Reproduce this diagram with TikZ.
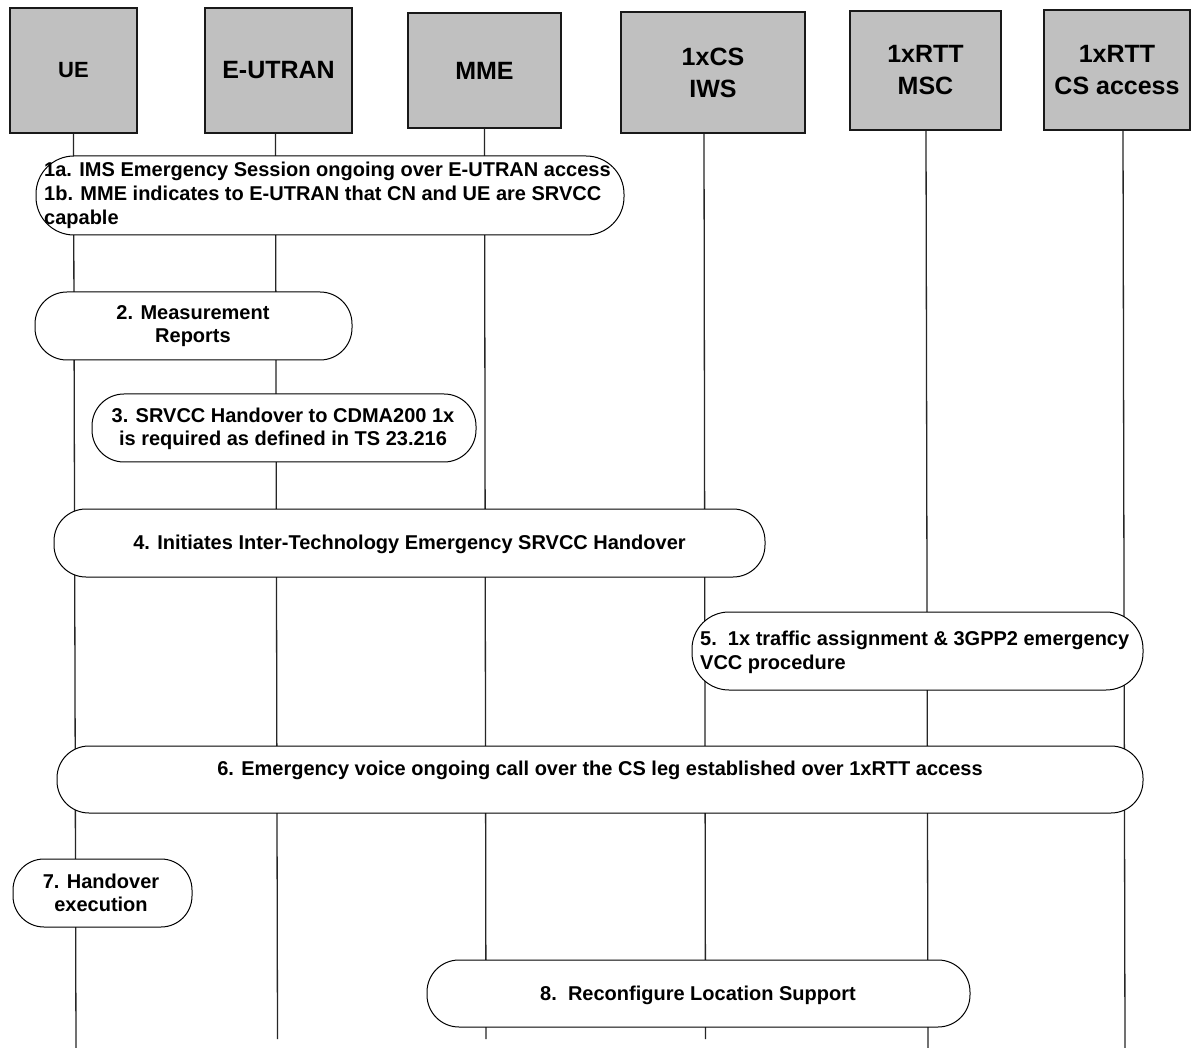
\documentclass[tikz,border=0pt]{standalone}
\usepackage{fontspec}
\setmainfont{Liberation Sans}
\definecolor{boxgray}{RGB}{192,192,192}
\begin{document}
\begin{tikzpicture}[x=1pt,y=-1pt,
  ent/.style={draw=black!90, line width=1.6pt, fill=boxgray, inner sep=0pt, align=center, font=\fontsize{25}{32}\selectfont\bfseries},
  life/.style={line width=1.3pt, draw=black!85},
  bub/.style={draw=black, line width=1pt, fill=white, inner sep=0pt},
  btxt/.style={inner sep=0pt, font=\fontsize{20}{24}\selectfont\bfseries}]
\useasboundingbox (0,0) rectangle (1192,1048);
\fill[white] (0,0) rectangle (1192,1048);

% lifeline end points
\coordinate (ueT) at (73.5,133);  \coordinate (ueB) at (76,1048);
\coordinate (euT) at (275.5,133); \coordinate (euB) at (277.5,1039);
\coordinate (mmT) at (484.5,128); \coordinate (mmB) at (486,1039);
\coordinate (iwT) at (704,133);   \coordinate (iwB) at (705.5,1039);
\coordinate (msT) at (926,130);   \coordinate (msB) at (928,1048);
\coordinate (csT) at (1123,130);  \coordinate (csB) at (1125,1048);
\draw[life] (ueT) -- (ueB);
\draw[life] (euT) -- (euB);
\draw[life] (mmT) -- (mmB);
\draw[life] (iwT) -- (iwB);
\draw[life] (msT) -- (msB);
\draw[life] (csT) -- (csB);

% entity boxes
\node[ent, minimum width=127pt, minimum height=125pt] (ue) at (73.5,70.5) {\fontsize{22}{26}\selectfont UE};
\node[ent, minimum width=147pt, minimum height=125pt] (eu) at (278.5,70.5) {E-UTRAN};
\node[ent, minimum width=153pt, minimum height=115pt] (mme) at (484.5,70.5) {MME};
\node[ent, minimum width=184pt, minimum height=121pt] (iws) at (713,72.5) {1xCS\\IWS};
\node[ent, minimum width=151pt, minimum height=119pt] (msc) at (925.5,70.5) {1xRTT\\MSC};
\node[ent, minimum width=146pt, minimum height=120pt] (csa) at (1117,70) {1xRTT\\CS access};

% bubbles
\node[bub, minimum width=588pt, minimum height=79pt, rounded corners=38pt] (b1) at (330,195.5) {};
\node[btxt, anchor=base west] (t1a) at (44,177) {1a. IMS Emergency Session ongoing over E-UTRAN access};
\node[btxt, anchor=base west] (t1b) at (44,201) {1b. MME indicates to E-UTRAN that CN and UE are SRVCC};
\node[btxt, anchor=base west] (t1c) at (44,225) {capable};

\node[bub, minimum width=317pt, minimum height=68pt, rounded corners=32pt] (b2) at (193.5,326) {};
\node[btxt, anchor=base] (t2a) at (193,320) {2. Measurement};
\node[btxt, anchor=base] (t2b) at (193,343) {Reports};

\node[bub, minimum width=384pt, minimum height=68pt, rounded corners=32pt] (b3) at (284,428) {};
\node[btxt, anchor=base] (t3a) at (283,422.5) {3. SRVCC Handover to CDMA200 1x};
\node[btxt, anchor=base] (t3b) at (283,445.5) {is required as defined in TS 23.216};

\node[bub, minimum width=711pt, minimum height=68pt, rounded corners=32pt] (b4) at (409.5,543) {};
\node[btxt, anchor=base] (t4) at (409.5,549.5) {4. Initiates Inter-Technology Emergency SRVCC Handover};

\node[bub, minimum width=451pt, minimum height=78pt, rounded corners=37pt] (b5) at (917.5,651) {};
\node[btxt, anchor=base west] (t5a) at (700,645) {5.\ \ 1x traffic assignment \& 3GPP2 emergency};
\node[btxt, anchor=base west] (t5b) at (700,669) {VCC procedure};

\node[bub, minimum width=1086pt, minimum height=67pt, rounded corners=32pt] (b6) at (600,779.5) {};
\node[btxt, anchor=base] (t6) at (600,775) {6. Emergency voice ongoing call over the CS leg established over 1xRTT access};

\node[bub, minimum width=179pt, minimum height=68pt, rounded corners=31pt] (b7) at (102.5,893) {};
\node[btxt, anchor=base] (t7a) at (101,888) {7. Handover};
\node[btxt, anchor=base] (t7b) at (101,911) {execution};

\node[bub, minimum width=543pt, minimum height=67pt, rounded corners=32pt] (b8) at (698.5,993.5) {};
\node[btxt, anchor=base] (t8) at (698,1000) {8.\ \ Reconfigure Location Support};
\end{tikzpicture}
\end{document}
